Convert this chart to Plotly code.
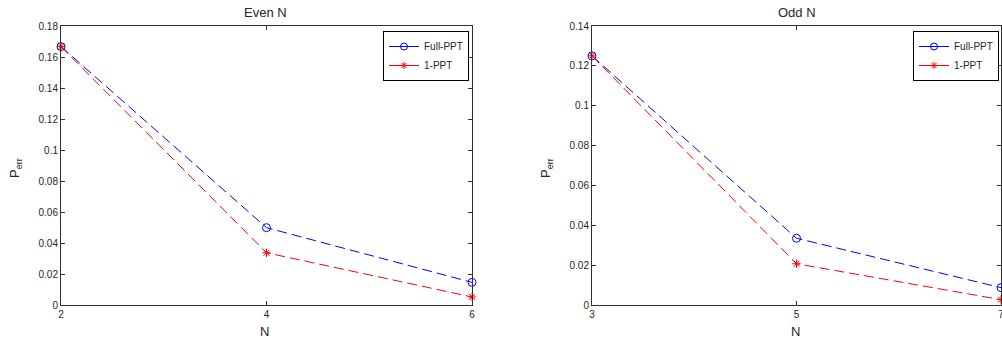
import plotly.graph_objects as go

# ---- data ----
even_n = [2, 4, 6]
even_full_ppt = [0.1667, 0.0499, 0.0146]
even_one_ppt = [0.1667, 0.0337, 0.0052]

odd_n = [3, 5, 7]
odd_full_ppt = [0.125, 0.0335, 0.0087]
odd_one_ppt = [0.125, 0.0207, 0.0027]

even_yticks = [0, 0.02, 0.04, 0.06, 0.08, 0.1, 0.12, 0.14, 0.16, 0.18]
even_yticklabels = ["0", "0.02", "0.04", "0.06", "0.08", "0.1", "0.12", "0.14", "0.16", "0.18"]
odd_yticks = [0, 0.02, 0.04, 0.06, 0.08, 0.1, 0.12, 0.14]
odd_yticklabels = ["0", "0.02", "0.04", "0.06", "0.08", "0.1", "0.12", "0.14"]

series_names = ["Full-PPT", "1-PPT"]
panel_titles = ["Even N", "Odd N"]
x_label = "N"
y_label = "P<sub>err</sub>"

W, H = 1002, 344
BLUE = "#0000ff"
RED = "#ff0000"
AX = "#303030"
TXT = "#262626"
FONT = "Liberation Sans, Arial, sans-serif"


def px_x(p):
    return p / W


def px_y(p):
    return 1 - p / H


fig = go.Figure()

panels = [
    dict(x=even_n, full=even_full_ppt, one=even_one_ppt, xa="x", ya="y", lg="legend"),
    dict(x=odd_n, full=odd_full_ppt, one=odd_one_ppt, xa="x2", ya="y2", lg="legend2"),
]

for p in panels:
    fig.add_trace(go.Scatter(
        x=p["x"], y=p["full"], mode="lines+markers", xaxis=p["xa"], yaxis=p["ya"],
        line=dict(color=BLUE, width=1, dash="10px,5px"),
        marker=dict(symbol="circle-open", size=8, color=BLUE, line=dict(width=1)),
        showlegend=False, cliponaxis=False, name=series_names[0]))
    fig.add_trace(go.Scatter(
        x=p["x"], y=p["one"], mode="lines+markers", xaxis=p["xa"], yaxis=p["ya"],
        line=dict(color=RED, width=1, dash="10px,5px"),
        marker=dict(symbol="asterisk-open", size=7, color=RED, line=dict(width=1, color=RED)),
        showlegend=False, cliponaxis=False, name=series_names[1]))
    # legend entries (solid samples as in the reference legend)
    fig.add_trace(go.Scatter(
        x=[None], y=[None], mode="lines+markers", xaxis=p["xa"], yaxis=p["ya"],
        line=dict(color=BLUE, width=1),
        marker=dict(symbol="circle-open", size=7, color=BLUE, line=dict(width=1)),
        name=series_names[0], legend=p["lg"]))
    fig.add_trace(go.Scatter(
        x=[None], y=[None], mode="lines+markers", xaxis=p["xa"], yaxis=p["ya"],
        line=dict(color=RED, width=1),
        marker=dict(symbol="asterisk-open", size=6, color=RED, line=dict(width=1, color=RED)),
        name=series_names[1], legend=p["lg"]))

axis_common = dict(
    showgrid=False, zeroline=False, showline=True, linecolor=AX, linewidth=1,
    mirror="ticks", ticks="inside", ticklen=4, tickcolor=AX, automargin=False,
    ticklabeloverflow="allow",
    tickfont=dict(family=FONT, size=10, color=TXT),
)

legend_common = dict(
    xanchor="right", yanchor="top",
    bordercolor="#000000", borderwidth=1, bgcolor="white",
    font=dict(family=FONT, size=10, color=TXT), itemwidth=30,
    tracegroupgap=0,
)

y_top, y_bot = 26, 305
fig.update_layout(
    width=W, height=H,
    margin=dict(l=0, r=0, t=0, b=0, autoexpand=False),
    paper_bgcolor="white", plot_bgcolor="white",
    font=dict(family=FONT, color=TXT),
    xaxis=dict(domain=[px_x(61), px_x(472)], range=[2, 6], anchor="y",
               tickvals=even_n, ticktext=[str(v) for v in even_n], **axis_common),
    yaxis=dict(domain=[px_y(y_bot), px_y(y_top)], range=[0, 0.18], anchor="x",
               tickvals=even_yticks, ticktext=even_yticklabels, **axis_common),
    xaxis2=dict(domain=[px_x(592), px_x(1001)], range=[3, 7], anchor="y2",
                tickvals=odd_n, ticktext=[str(v) for v in odd_n], **axis_common),
    yaxis2=dict(domain=[px_y(y_bot), px_y(y_top)], range=[0, 0.14], anchor="x2",
                tickvals=odd_yticks, ticktext=odd_yticklabels, **axis_common),
    legend=dict(x=px_x(469), y=px_y(31), **legend_common),
    legend2=dict(x=px_x(999), y=px_y(31), **legend_common),
)

annotations = [
    dict(text=panel_titles[0], x=px_x(265), y=px_y(13)),
    dict(text=panel_titles[1], x=px_x(797), y=px_y(13)),
    dict(text=x_label, x=px_x(264), y=px_y(331)),
    dict(text=x_label, x=px_x(795), y=px_y(331)),
]
for a in annotations:
    fig.add_annotation(xref="paper", yref="paper", showarrow=False,
                       xanchor="center", yanchor="middle",
                       font=dict(family=FONT, size=13, color=TXT), **a)
for xp in (15, 546):
    fig.add_annotation(xref="paper", yref="paper", showarrow=False,
                       text=y_label, textangle=-90, x=px_x(xp), y=px_y(168),
                       xanchor="center", yanchor="middle",
                       font=dict(family=FONT, size=13, color=TXT))

fig.write_html(
    "out.html",
    config={"displayModeBar": False},
    post_script="document.body.style.margin='0';document.body.style.overflow='hidden';",
)
